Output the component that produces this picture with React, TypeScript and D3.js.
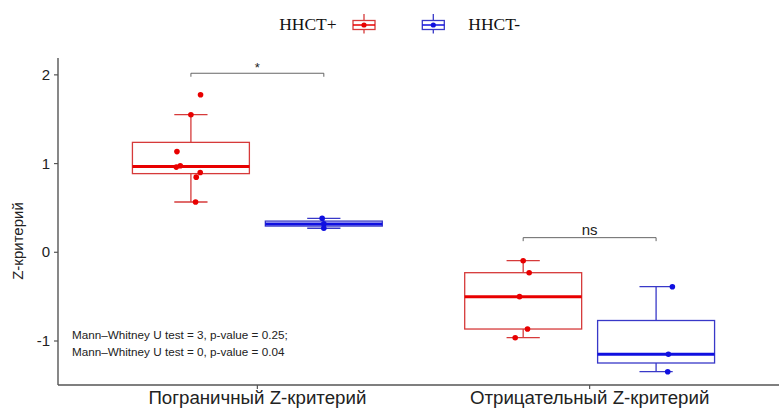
import React from "react";
import * as d3 from "d3";

// ---- data ----
const categories = ["Пограничный Z-критерий", "Отрицательный Z-критерий"];
const groups = ["HHCT+", "HHCT-"];
// values per [category][group]
const redBorder = [1.775, 1.551, 1.135, 0.96, 0.975, 0.9, 0.847, 0.567];
const blueBorder = [0.383, 0.32, 0.271];
const redNeg = [-0.095, -0.23, -0.5, -0.865, -0.963];
const blueNeg = [-0.388, -1.15, -1.346];
// jitter offsets (x units) as they appear in the picture
const jitRedBorder = [0.029, 0, -0.042, -0.044, -0.032, 0.028, 0.016, 0.014];
const jitBlueBorder = [-0.005, 0, 0];
const jitRedNeg = [0, 0.018, -0.011, 0.013, -0.024];
const jitBlueNeg = [0.049, 0.037, 0.035];
const yTicks = [-1, 0, 1, 2];
const annotations = [
  "Mann\u2013Whitney U test = 3, p-value = 0.25;",
  "Mann\u2013Whitney U test = 0, p-value = 0.04",
];
const brackets = [
  { cat: 0, y: 2.018, label: "*" },
  { cat: 1, y: 0.165, label: "ns" },
];

const series = [
  { cat: 0, g: 0, vals: redBorder, jit: jitRedBorder },
  { cat: 0, g: 1, vals: blueBorder, jit: jitBlueBorder },
  { cat: 1, g: 0, vals: redNeg, jit: jitRedNeg },
  { cat: 1, g: 1, vals: blueNeg, jit: jitBlueNeg },
];

const W = 779;
const H = 408;
const plotLeft = 58;
const plotRight = 789;
const plotTop = 58;
const plotBottom = 385;

const outline = ["#d63a3a", "#3838c8"];
const strong = ["#e80000", "#1010e0"];
const SANS = "'Liberation Sans', Arial, sans-serif";
const SERIF = "'Liberation Serif', 'Times New Roman', serif";

function stats(v: number[]) {
  const s = [...v].sort(d3.ascending);
  const q1 = d3.quantile(s, 0.25)!;
  const med = d3.quantile(s, 0.5)!;
  const q3 = d3.quantile(s, 0.75)!;
  const iqr = q3 - q1;
  const inside = s.filter((d) => d >= q1 - 1.5 * iqr && d <= q3 + 1.5 * iqr);
  return { q1, med, q3, lo: d3.min(inside)!, hi: d3.max(inside)! };
}

export default function App() {
  const x = d3.scaleLinear().domain([0.4, 2.6]).range([plotLeft, plotRight]);
  const y = d3.scaleLinear().domain([-1.496, 2.19]).range([plotBottom, plotTop]);
  const dodge = 0.2;
  const boxW = 0.352;
  const capW = 0.1;

  const cx = (cat: number, g: number) => cat + 1 + (g === 0 ? -dodge : dodge);

  return (
    <svg
      width={W}
      height={H}
      style={{ position: "absolute", left: 0, top: 0, background: "#fff" }}
    >
      {/* boxes */}
      {series.map((s, i) => {
        const st = stats(s.vals);
        const c = cx(s.cat, s.g);
        const x0 = x(c - boxW / 2);
        const x1 = x(c + boxW / 2);
        const xc = x(c);
        const cw = x(c + capW / 2) - xc;
        return (
          <g key={i}>
            <line x1={xc} x2={xc} y1={y(st.hi)} y2={y(st.q3)} stroke={outline[s.g]} strokeWidth={1.3} />
            <line x1={xc} x2={xc} y1={y(st.lo)} y2={y(st.q1)} stroke={outline[s.g]} strokeWidth={1.3} />
            <line x1={xc - cw} x2={xc + cw} y1={y(st.hi)} y2={y(st.hi)} stroke={outline[s.g]} strokeWidth={1.3} />
            <line x1={xc - cw} x2={xc + cw} y1={y(st.lo)} y2={y(st.lo)} stroke={outline[s.g]} strokeWidth={1.3} />
            <rect x={x0} y={y(st.q3)} width={x1 - x0} height={y(st.q1) - y(st.q3)} fill="#fff" stroke={outline[s.g]} strokeWidth={1.3} />
            <line x1={x0} x2={x1} y1={y(st.med)} y2={y(st.med)} stroke={strong[s.g]} strokeWidth={3} />
            {s.vals.map((v, j) => (
              <circle key={j} cx={x(c + s.jit[j])} cy={y(v)} r={2.8} fill={strong[s.g]} />
            ))}
          </g>
        );
      })}

      {/* brackets */}
      {brackets.map((b, i) => {
        const xa = x(cx(b.cat, 0));
        const xb = x(cx(b.cat, 1));
        const yy = y(b.y);
        return (
          <g key={i}>
            <path d={`M${xa},${yy + 3.5}V${yy}H${xb}V${yy + 3.5}`} fill="none" stroke="#555" strokeWidth={0.9} />
            <text x={(xa + xb) / 2} y={yy - (b.label === "*" ? 1 : 3)} textAnchor="middle" fontFamily={SANS} fontSize={b.label === "*" ? 13 : 15} fill="#222">
              {b.label}
            </text>
          </g>
        );
      })}

      {/* annotations */}
      {annotations.map((t, i) => (
        <text key={i} x={72} y={339 + i * 17} fontFamily={SANS} fontSize={11.7} fill="#222">
          {t}
        </text>
      ))}

      {/* axes */}
      <line x1={plotLeft} x2={plotLeft} y1={plotTop} y2={plotBottom} stroke="#555" strokeWidth={1.4} />
      <line x1={plotLeft} x2={W} y1={plotBottom} y2={plotBottom} stroke="#555" strokeWidth={1.4} />
      {yTicks.map((t) => (
        <g key={t}>
          <line x1={plotLeft - 4} x2={plotLeft} y1={y(t)} y2={y(t)} stroke="#555" strokeWidth={1.2} />
          <text x={plotLeft - 8} y={y(t) + 5} textAnchor="end" fontFamily={SANS} fontSize={15} fill="#222">
            {t}
          </text>
        </g>
      ))}
      {categories.map((c, i) => (
        <g key={c}>
          <line x1={x(i + 1)} x2={x(i + 1)} y1={plotBottom} y2={plotBottom + 4} stroke="#555" strokeWidth={1.2} />
          <text x={x(i + 1)} y={403.5} textAnchor="middle" fontFamily={SANS} fontSize={18.7} fill="#222">
            {c}
          </text>
        </g>
      ))}
      <text transform={`translate(23,241) rotate(-90)`} textAnchor="middle" fontFamily={SANS} fontSize={15} fill="#222">
        Z-критерий
      </text>

      {/* legend */}
      {groups.map((g, i) => {
        const kx = i === 0 ? 364 : 433.3;
        const tx = i === 0 ? 336.7 : 468.3;
        return (
          <g key={g}>
            <line x1={kx} x2={kx} y1={14} y2={33.5} stroke={outline[i]} strokeWidth={1.3} />
            <rect x={kx - 11} y={20.5} width={22} height={9} fill="#fff" stroke={outline[i]} strokeWidth={1.3} />
            <line x1={kx - 11} x2={kx + 11} y1={25} y2={25} stroke={strong[i]} strokeWidth={1.5} />
            <circle cx={kx} cy={25} r={2.6} fill={strong[i]} />
            <text x={tx} y={29.5} textAnchor={i === 0 ? "end" : "start"} fontFamily={SERIF} fontSize={17.5} fill="#111">
              {g}
            </text>
          </g>
        );
      })}
    </svg>
  );
}
